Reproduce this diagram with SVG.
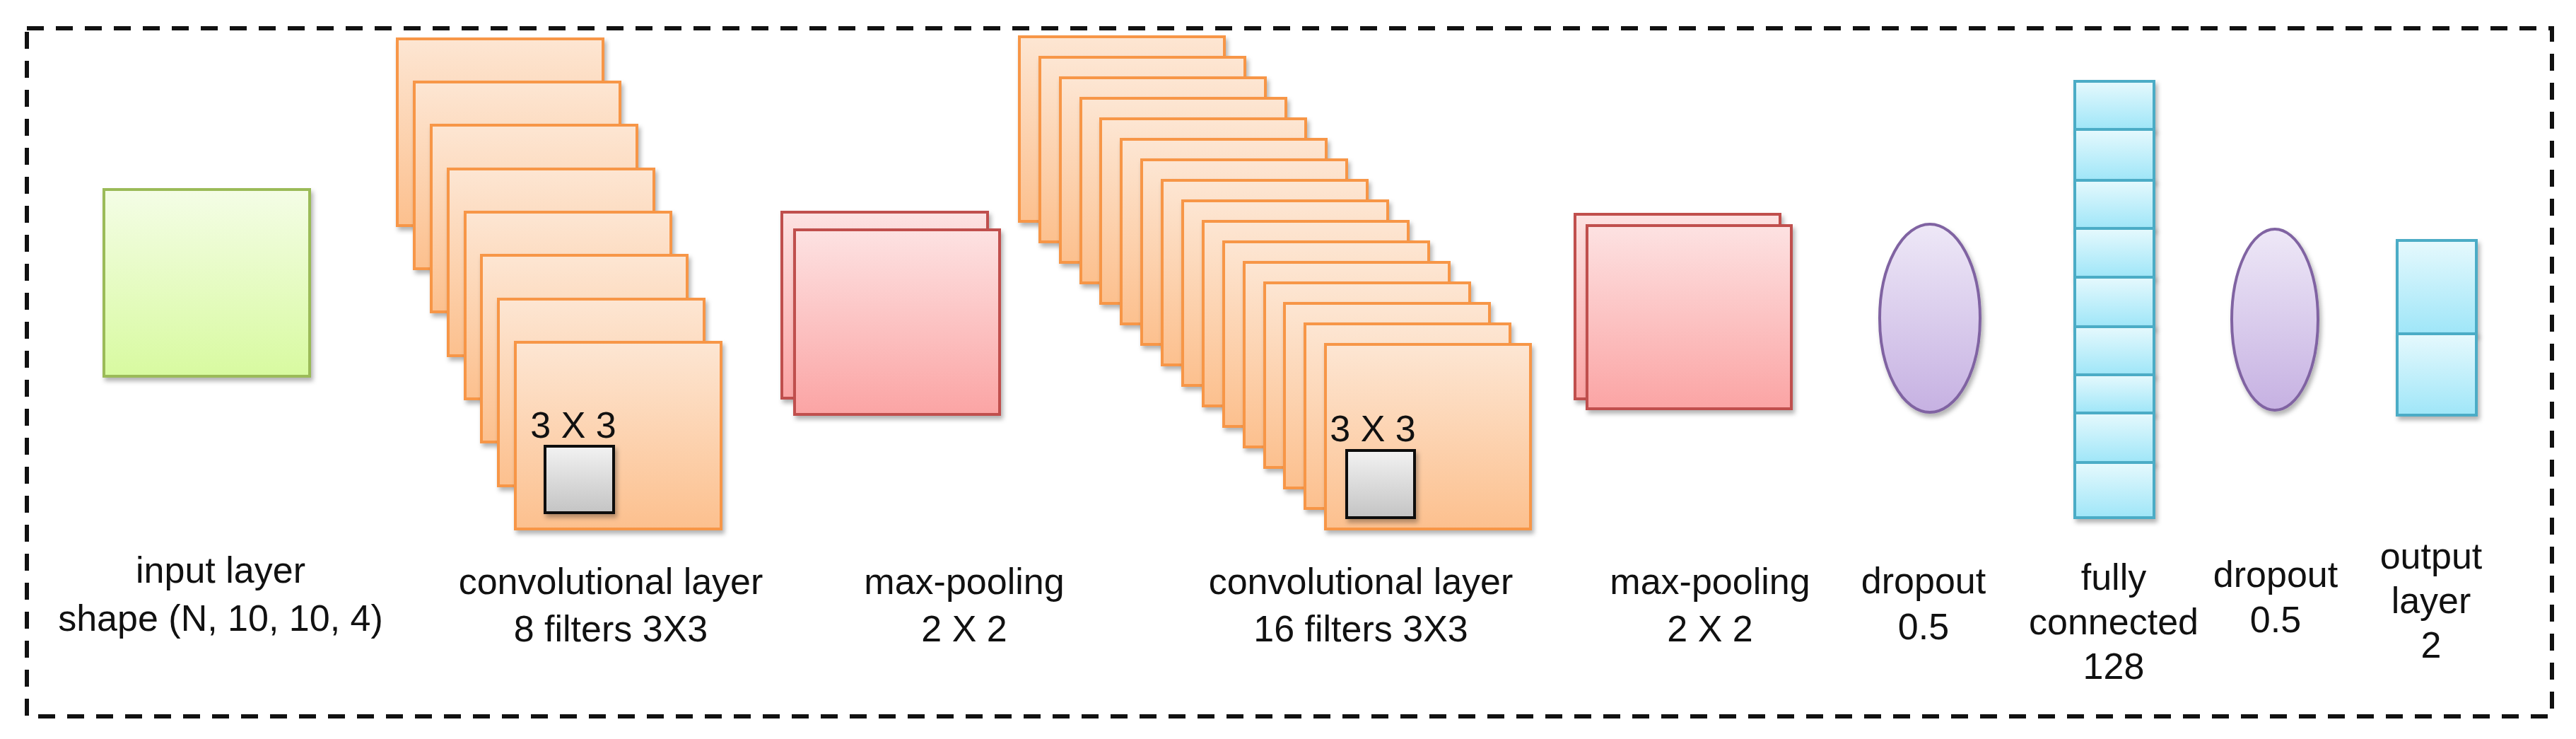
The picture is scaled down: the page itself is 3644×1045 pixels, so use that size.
<svg xmlns="http://www.w3.org/2000/svg" width="3644" height="1045" viewBox="0 0 3644 1045">
<defs>
<linearGradient id="gOr" x1="0" y1="0" x2="0" y2="1"><stop offset="0" stop-color="#fde6d3"/><stop offset="1" stop-color="#fcc08e"/></linearGradient>
<linearGradient id="gGr" x1="0" y1="0" x2="0" y2="1"><stop offset="0" stop-color="#f4fde6"/><stop offset="1" stop-color="#d8faa0"/></linearGradient>
<linearGradient id="gRd" x1="0" y1="0" x2="0" y2="1"><stop offset="0" stop-color="#fde2e2"/><stop offset="1" stop-color="#fba4a4"/></linearGradient>
<linearGradient id="gPu" x1="0" y1="0" x2="0" y2="1"><stop offset="0" stop-color="#eee8f7"/><stop offset="1" stop-color="#c6b1e2"/></linearGradient>
<linearGradient id="gCy" x1="0" y1="0" x2="0" y2="1"><stop offset="0" stop-color="#e6f9fd"/><stop offset="1" stop-color="#9fe6f8"/></linearGradient>
<linearGradient id="gGy" x1="0" y1="0" x2="0" y2="1"><stop offset="0" stop-color="#f2f2f2"/><stop offset="1" stop-color="#c4c4c4"/></linearGradient>
<filter id="sh" x="-10%" y="-10%" width="130%" height="130%"><feDropShadow dx="3" dy="5" stdDeviation="3" flood-color="#000" flood-opacity="0.3"/></filter>
</defs>
<style>
text{font-family:"Liberation Sans",Arial,sans-serif;font-size:52px;fill:#111;text-anchor:middle}
.or{fill:url(#gOr);stroke:#f79646;stroke-width:4;filter:url(#sh)}
.rd{fill:url(#gRd);stroke:#c0504d;stroke-width:4;filter:url(#sh)}
.cy{fill:url(#gCy);stroke:#4bacc6;stroke-width:4;filter:url(#sh)}
.pu{fill:url(#gPu);stroke:#8064a2;stroke-width:4;filter:url(#sh)}
.gy{fill:url(#gGy);stroke:#111;stroke-width:4;filter:url(#sh)}
</style>
<rect x="38" y="40" width="3572" height="973" fill="none" stroke="#111" stroke-width="6" stroke-dasharray="24,17"/>
<g id="input">
<rect x="147" y="268" width="291" height="264" fill="url(#gGr)" stroke="#9bbb59" stroke-width="4" filter="url(#sh)"/>
<text x="312" y="824">input layer</text><text x="312" y="892">shape (N, 10, 10, 4)</text>
</g>
<g id="conv1">
<rect class="or" x="562" y="55" width="291" height="264"/>
<rect class="or" x="586" y="116" width="291" height="264"/>
<rect class="or" x="610" y="177" width="291" height="264"/>
<rect class="or" x="634" y="239" width="291" height="264"/>
<rect class="or" x="658" y="300" width="291" height="264"/>
<rect class="or" x="681" y="361" width="291" height="264"/>
<rect class="or" x="705" y="423" width="291" height="264"/>
<rect class="or" x="729" y="484" width="291" height="264"/>
<rect class="gy" x="771" y="631" width="97" height="94"/>
<text x="811" y="619">3 X 3</text>
<text x="864" y="840">convolutional layer</text><text x="864" y="907">8 filters 3X3</text>
</g>
<g id="pool1">
<rect class="rd" x="1106" y="300" width="291" height="263"/>
<rect class="rd" x="1124" y="325" width="290" height="261"/>
<text x="1364" y="840">max-pooling</text><text x="1364" y="907">2 X 2</text>
</g>
<g id="conv2">
<rect class="or" x="1442" y="52" width="290" height="261"/>
<rect class="or" x="1471" y="81" width="290" height="261"/>
<rect class="or" x="1500" y="110" width="290" height="261"/>
<rect class="or" x="1529" y="139" width="290" height="261"/>
<rect class="or" x="1557" y="168" width="290" height="261"/>
<rect class="or" x="1586" y="197" width="290" height="261"/>
<rect class="or" x="1615" y="226" width="290" height="261"/>
<rect class="or" x="1644" y="255" width="290" height="261"/>
<rect class="or" x="1673" y="284" width="290" height="261"/>
<rect class="or" x="1702" y="313" width="290" height="261"/>
<rect class="or" x="1731" y="342" width="290" height="261"/>
<rect class="or" x="1760" y="371" width="290" height="261"/>
<rect class="or" x="1789" y="400" width="290" height="261"/>
<rect class="or" x="1817" y="429" width="290" height="261"/>
<rect class="or" x="1846" y="458" width="290" height="261"/>
<rect class="or" x="1875" y="487" width="290" height="261"/>
<rect class="gy" x="1905" y="637" width="96" height="95"/>
<text x="1942" y="624">3 X 3</text>
<text x="1925" y="840">convolutional layer</text><text x="1925" y="907">16 filters 3X3</text>
</g>
<g id="pool2">
<rect class="rd" x="2228" y="303" width="290" height="261"/>
<rect class="rd" x="2245" y="319" width="289" height="259"/>
<text x="2419" y="840">max-pooling</text><text x="2419" y="907">2 X 2</text>
</g>
<g id="dropout1">
<ellipse class="pu" cx="2730" cy="450" rx="71" ry="133"/>
<text x="2721" y="839">dropout</text><text x="2721" y="904">0.5</text>
</g>
<g id="fc">
<rect class="cy" x="2935" y="115" width="112" height="68"/>
<rect class="cy" x="2935" y="183" width="112" height="72"/>
<rect class="cy" x="2935" y="255" width="112" height="68"/>
<rect class="cy" x="2935" y="323" width="112" height="69"/>
<rect class="cy" x="2935" y="392" width="112" height="70"/>
<rect class="cy" x="2935" y="462" width="112" height="68"/>
<rect class="cy" x="2935" y="530" width="112" height="54"/>
<rect class="cy" x="2935" y="584" width="112" height="70"/>
<rect class="cy" x="2935" y="654" width="112" height="78"/>
<text x="2990" y="834">fully</text><text x="2990" y="897">connected</text><text x="2990" y="960">128</text>
</g>
<g id="dropout2">
<ellipse class="pu" cx="3218" cy="452" rx="61" ry="128"/>
<text x="3219" y="830">dropout</text><text x="3219" y="894">0.5</text>
</g>
<g id="output">
<rect class="cy" x="3391" y="340" width="112" height="132"/>
<rect class="cy" x="3391" y="472" width="112" height="115"/>
<text x="3439" y="804">output</text><text x="3439" y="867">layer</text><text x="3439" y="930">2</text>
</g>
<g id="connectors"/>
</svg>
